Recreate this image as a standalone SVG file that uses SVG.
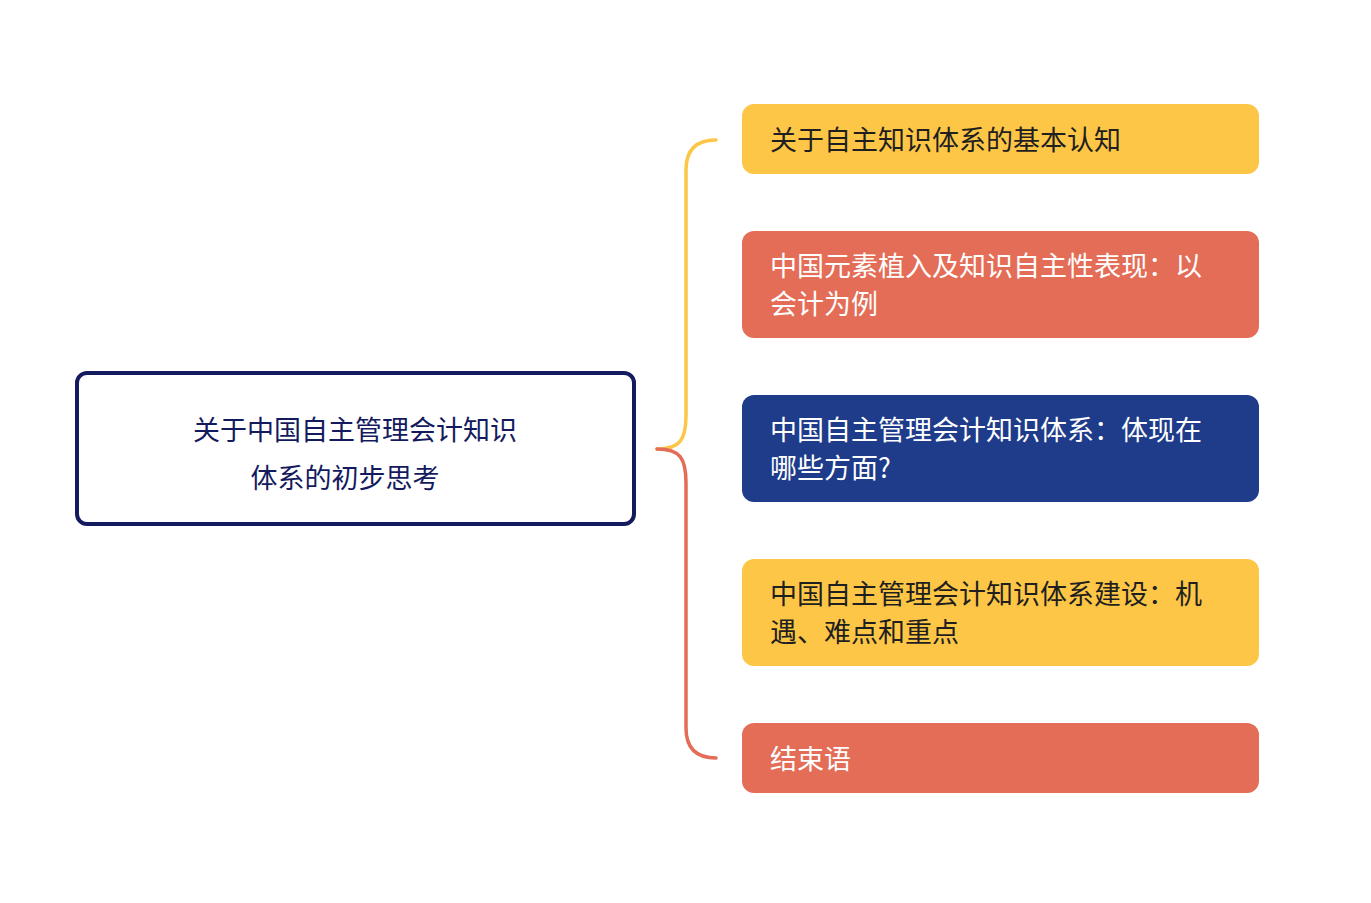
<svg xmlns="http://www.w3.org/2000/svg" width="1371" height="903" viewBox="0 0 1371 903">
<style>
text{font-family:"Noto Sans CJK SC","Noto Sans",sans-serif;font-size:27px}
.d{fill:#1f1f1f}.w{fill:#ffffff}
.y{fill:#fdc646}.r{fill:#e46d57}.b{fill:#1e3c8a}
</style>
<rect width="1371" height="903" fill="#fff"/>
<g id="connectors" fill="none" stroke-width="3.5" stroke-linecap="round">
<path d="M657,449 C680,449 686,440 686,415 L686,170 C686,150 696,140 716,140" stroke="#fdc646"/>
<path d="M657,449 C680,449 686,458 686,483 L686,728 C686,748 696,758 716,758" stroke="#e46d57"/>
</g>
<g id="root">
<rect x="77" y="373" width="557" height="151" rx="10" fill="#fff" stroke="#141a5e" stroke-width="4"/>
<text x="355" y="440" text-anchor="middle" font-size="36" fill="#141a5e">关于中国自主管理会计知识</text>
<text x="345" y="488" text-anchor="middle" font-size="36" fill="#141a5e">体系的初步思考</text>
</g>
<g id="n1"><rect x="742" y="104" width="517" height="70" rx="12" class="y"/><text x="770" y="150" class="d">关于自主知识体系的基本认知</text></g>
<g id="n2"><rect x="742" y="231" width="517" height="107" rx="12" class="r"/><text x="770" y="276" class="w">中国元素植入及知识自主性表现：以</text><text x="770" y="314" class="w">会计为例</text></g>
<g id="n3"><rect x="742" y="395" width="517" height="107" rx="12" class="b"/><text x="770" y="440" class="w">中国自主管理会计知识体系：体现在</text><text x="770" y="478" class="w">哪些方面?</text></g>
<g id="n4"><rect x="742" y="559" width="517" height="107" rx="12" class="y"/><text x="770" y="604" class="d">中国自主管理会计知识体系建设：机</text><text x="770" y="642" class="d">遇、难点和重点</text></g>
<g id="n5"><rect x="742" y="723" width="517" height="70" rx="12" class="r"/><text x="770" y="769" class="w">结束语</text></g>
</svg>
